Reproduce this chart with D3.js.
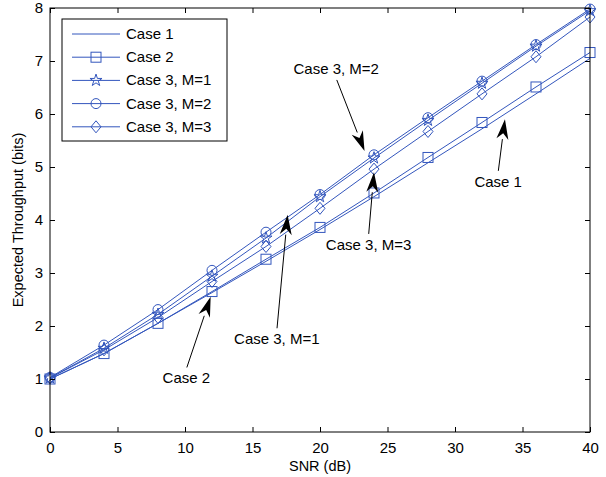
<!DOCTYPE html>
<html>
<head>
<meta charset="utf-8">
<script src="https://cdn.jsdelivr.net/npm/d3@7"></script>
<style>
  body { margin: 0; background: #fff; }
  svg { display: block; font-family: "Liberation Sans", Arial, sans-serif; }
</style>
</head>
<body>
<div id="target"></div>
<script>
// data
const snr = [0, 4, 8, 12, 16, 20, 24, 28, 32, 36, 40]
const case1 = [1.0, 1.48, 2.05, 2.63, 3.22, 3.82, 4.44, 5.08, 5.72, 6.38, 7.05]
const case2 = [1.0, 1.48, 2.05, 2.65, 3.26, 3.86, 4.51, 5.18, 5.84, 6.51, 7.16]
const case3M1 = [1.02, 1.58, 2.22, 2.94, 3.66, 4.44, 5.17, 5.88, 6.58, 7.28, 7.95]
const case3M2 = [1.03, 1.64, 2.31, 3.05, 3.77, 4.48, 5.23, 5.93, 6.62, 7.31, 7.98]
const case3M3 = [1.02, 1.55, 2.16, 2.84, 3.5, 4.22, 4.96, 5.67, 6.38, 7.08, 7.83]
const xTicks = [0, 5, 10, 15, 20, 25, 30, 35, 40]
const yTicks = [0, 1, 2, 3, 4, 5, 6, 7, 8]

const seriesNames = ["Case 1", "Case 2", "Case 3, M=1", "Case 3, M=2", "Case 3, M=3"]
const seriesValues = [case1, case2, case3M1, case3M2, case3M3]
const seriesMarkers = ["none", "square", "star", "circle", "diamond"]

// annotations: label, label position (data units), arrow tip (data units)
const notes = [
  { text: "Case 3, M=2", at: [21.2, 6.85], tip: [23.3, 5.3] },
  { text: "Case 1", at: [33.2, 4.72], tip: [33.7, 5.9] },
  { text: "Case 3, M=3", at: [23.6, 3.53], tip: [24.0, 4.9] },
  { text: "Case 3, M=1", at: [16.8, 1.75], tip: [17.6, 4.1] },
  { text: "Case 2", at: [10.1, 1.01], tip: [11.9, 2.55] }
]

const width = 606, height = 477
const margin = { top: 8, right: 16, bottom: 45, left: 50 }
const color = "#3356bd"
const fontSize = 15

const svg = d3.select("#target").append("svg")
  .attr("width", width)
  .attr("height", height)

const x = d3.scaleLinear().domain([0, 40]).range([margin.left, width - margin.right])
const y = d3.scaleLinear().domain([0, 8]).range([height - margin.bottom, margin.top])

const plot = svg.append("g")

// lines
const line = d3.line().x((d, i) => x(snr[i])).y(d => y(d))

seriesValues.forEach((vals, k) => {
  plot.append("path")
    .attr("d", line(vals))
    .attr("fill", "none")
    .attr("stroke", color)
    .attr("stroke-width", 1)
})

// markers
function drawMarker(g, type, cx, cy) {
  if (type === "square") {
    g.append("rect").attr("x", cx - 5).attr("y", cy - 5).attr("width", 10).attr("height", 10)
      .attr("fill", "none").attr("stroke", color).attr("stroke-width", 1)
  } else if (type === "circle") {
    g.append("circle").attr("cx", cx).attr("cy", cy).attr("r", 5)
      .attr("fill", "none").attr("stroke", color).attr("stroke-width", 1)
  } else if (type === "diamond") {
    g.append("path").attr("d", `M${cx},${cy - 6}L${cx + 5},${cy}L${cx},${cy + 6}L${cx - 5},${cy}Z`)
      .attr("fill", "none").attr("stroke", color).attr("stroke-width", 1)
  } else if (type === "star") {
    g.append("path")
      .attr("d", d3.symbol().type(d3.symbolStar).size(45)())
      .attr("transform", `translate(${cx},${cy})`)
      .attr("fill", "none").attr("stroke", color).attr("stroke-width", 1)
  }
}

seriesValues.forEach((vals, k) => {
  if (seriesMarkers[k] === "none") return
  vals.forEach((v, i) => drawMarker(plot, seriesMarkers[k], x(snr[i]), y(v)))
})

// axes with box
const x0 = x(0), x1 = x(40), y0 = y(0), y1 = y(8)
svg.append("rect").attr("x", x0).attr("y", y1).attr("width", x1 - x0).attr("height", y0 - y1)
  .attr("fill", "none").attr("stroke", "#000").attr("stroke-width", 1)

const xAxis = svg.append("g").attr("transform", `translate(0,${y0})`)
  .call(d3.axisBottom(x).tickValues(xTicks).tickSize(-5).tickPadding(10))
const xAxisTop = svg.append("g").attr("transform", `translate(0,${y1})`)
  .call(d3.axisTop(x).tickValues(xTicks).tickSize(-5).tickFormat(""))
const yAxis = svg.append("g").attr("transform", `translate(${x0},0)`)
  .call(d3.axisLeft(y).tickValues(yTicks).tickSize(-5).tickPadding(7))
const yAxisRight = svg.append("g").attr("transform", `translate(${x1},0)`)
  .call(d3.axisRight(y).tickValues(yTicks).tickSize(-5).tickFormat(""))

;[xAxis, xAxisTop, yAxis, yAxisRight].forEach(a => {
  a.select(".domain").remove()
  a.selectAll("text").attr("font-size", fontSize).attr("font-family", "Liberation Sans, Arial, sans-serif").attr("fill", "#000")
})

// axis labels
svg.append("text")
  .attr("x", (x0 + x1) / 2).attr("y", 471)
  .attr("text-anchor", "middle").attr("font-size", fontSize - 0.5)
  .text("SNR (dB)")

svg.append("text")
  .attr("transform", `translate(23,${(y0 + y1) / 2}) rotate(-90)`)
  .attr("text-anchor", "middle").attr("font-size", fontSize - 0.5)
  .text("Expected Throughput (bits)")

// annotations
const arrowLen = 20, arrowHalf = 6
notes.forEach(n => {
  const lx = x(n.at[0]), ly = y(n.at[1])
  const tx = x(n.tip[0]), ty = y(n.tip[1])
  svg.append("text")
    .attr("x", lx).attr("y", ly + 5)
    .attr("text-anchor", "middle").attr("font-size", fontSize)
    .text(n.text)
  // start of arrow just outside text
  const dirUp = ty < ly
  const sy = dirUp ? ly - 11 : ly + 11
  const sx = lx + (tx - lx) * 0.02
  const ang = Math.atan2(ty - sy, tx - sx)
  const bx = tx - arrowLen * Math.cos(ang), by = ty - arrowLen * Math.sin(ang)
  svg.append("line")
    .attr("x1", sx).attr("y1", sy).attr("x2", bx).attr("y2", by)
    .attr("stroke", "#000").attr("stroke-width", 1)
  const px = -Math.sin(ang), py = Math.cos(ang)
  const nx = tx - (arrowLen - 6) * Math.cos(ang), ny = ty - (arrowLen - 6) * Math.sin(ang)
  svg.append("path")
    .attr("d", `M${tx},${ty}L${bx + px * arrowHalf},${by + py * arrowHalf}L${nx},${ny}L${bx - px * arrowHalf},${by - py * arrowHalf}Z`)
    .attr("fill", "#000")
})

// legend
const legend = svg.append("g")
legend.append("rect").attr("x", 62).attr("y", 19).attr("width", 165).attr("height", 122)
  .attr("fill", "#fff").attr("stroke", "#000").attr("stroke-width", 1)

seriesNames.forEach((name, k) => {
  const ly = 34 + k * 23.2
  legend.append("line").attr("x1", 72).attr("x2", 120).attr("y1", ly).attr("y2", ly)
    .attr("stroke", color).attr("stroke-width", 1)
  drawMarker(legend, seriesMarkers[k], 96, ly)
  legend.append("text").attr("x", 126).attr("y", ly + 5).attr("font-size", fontSize).text(name)
})
</script>
</body>
</html>
